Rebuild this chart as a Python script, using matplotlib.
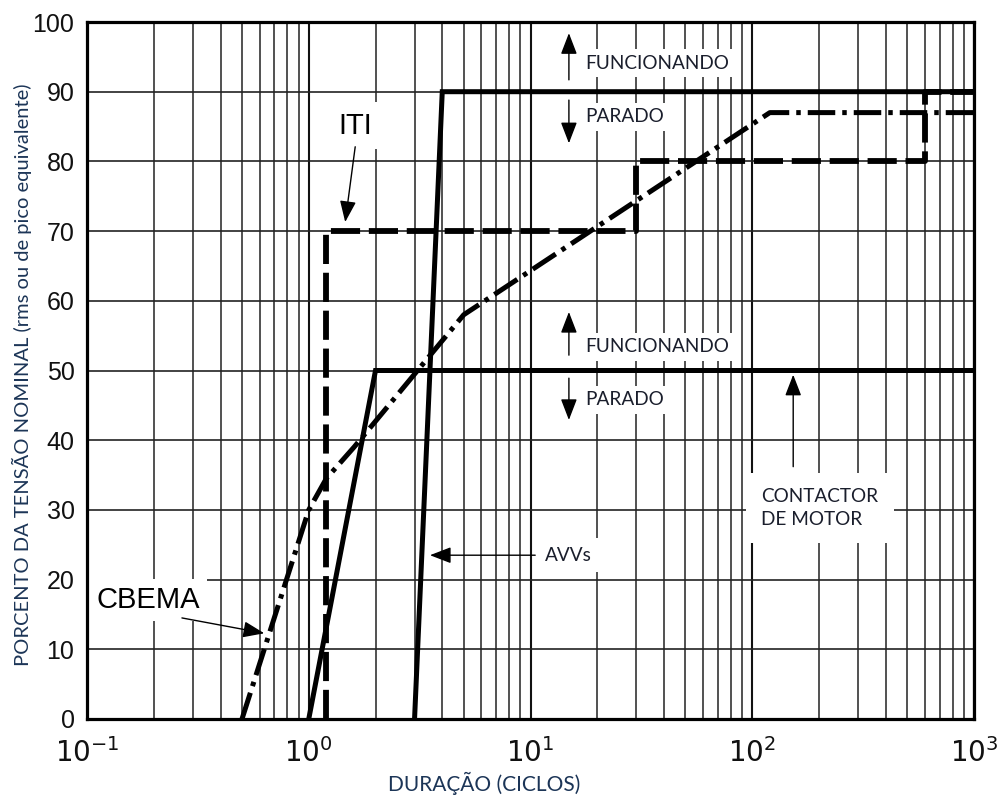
import numpy as np
import matplotlib
matplotlib.use("Agg")
import matplotlib.pyplot as plt
from matplotlib.ticker import LogLocator, FixedLocator, NullFormatter

# curve data (duration in cycles, percent of nominal voltage)
avv_x = [3, 4, 1000]
avv_y = [0, 90, 90]
motor_x = [1, 2, 1000]
motor_y = [0, 50, 50]
iti_x = [1.2, 1.2, 30, 30, 600, 600, 1000]
iti_y = [0, 70, 70, 80, 80, 90, 90]
cbema_x = [0.5, 1.0, 1.2, 1.6, 5, 120, 1000]
cbema_y = [0, 30, 34.5, 39, 58, 87, 87]

y_ticks = list(range(0, 101, 10))
x_ticks = [0.1, 1, 10, 100, 1000]
x_labels = [r"$10^{-1}$", r"$10^{0}$", r"$10^{1}$", r"$10^{2}$", r"$10^{3}$"]

label_col = "#1c3557"
note_col = "#1a1e2c"
note_font = "Lato"
big_font = "Liberation Sans"

fig = plt.figure(figsize=(10.08, 7.98), dpi=100)
ax = fig.add_axes([87 / 1008, 79 / 798, 887 / 1008, 697 / 798])
ax.set_xscale("log")
ax.set_xlim(0.1, 1000)
ax.set_ylim(0, 100)
ax.set_axisbelow(True)

ax.xaxis.set_major_locator(FixedLocator(x_ticks))
ax.xaxis.set_minor_locator(LogLocator(base=10, subs=np.arange(2, 10)))
ax.xaxis.set_minor_formatter(NullFormatter())
ax.set_xticks(x_ticks)
ax.set_xticklabels(x_labels, fontsize=20, family=big_font, color="#111111")
ax.set_yticks(y_ticks)
ax.set_yticklabels([str(v) for v in y_ticks], fontsize=18, family=big_font, color="#111111")
ax.tick_params(which="both", length=0)
ax.tick_params(axis="x", pad=14)
ax.tick_params(axis="y", pad=9)

ax.grid(which="major", axis="x", color="#111111", lw=1.5)
ax.grid(which="minor", axis="x", color="#222222", lw=1.1)
ax.grid(which="major", axis="y", color="#222222", lw=1.2)
for s in ax.spines.values():
    s.set_linewidth(2.3)

lw = 3.6
ax.plot(avv_x, avv_y, color="black", lw=lw, solid_joinstyle="miter", zorder=3)
ax.plot(motor_x, motor_y, color="black", lw=lw, solid_joinstyle="miter", zorder=3)
ax.plot(iti_x, iti_y, color="black", lw=4.2, dashes=(5, 1.5), zorder=3)
ax.plot(cbema_x, cbema_y, color="black", lw=lw, dashes=(5.5, 1.4, 0.9, 1.4), zorder=3)

box = dict(fc="white", ec="none", pad=4)
arr = dict(arrowstyle="-|>,head_length=1.3,head_width=0.5", color="black", lw=1.0,
           shrinkA=0, shrinkB=0)

# big labels
ax.text(1.62, 85.1, "ITI", fontsize=21, family=big_font, ha="center", va="center",
        bbox=dict(fc="white", ec="none", pad=7), zorder=1.5)
ax.annotate("", xy=(1.46, 71.3), xytext=(1.62, 82.1), arrowprops=arr, zorder=3.5)
ax.text(0.188, 17.1, "CBEMA", fontsize=21, family=big_font, ha="center", va="center",
        bbox=dict(fc="white", ec="none", pad=5), zorder=1.5)
ax.annotate("", xy=(0.63, 12.3), xytext=(0.268, 14.5), arrowprops=arr, zorder=3.5)

# region notes
for yf, yp, yu0, yu1, yd0, yd1 in [(94.1, 86.4, 91.7, 98.4, 88.8, 82.6),
                                     (53.4, 45.8, 52.2, 58.4, 48.9, 42.9)]:
    ax.text(17.6, yf, "FUNCIONANDO", fontsize=13.7, family=note_font, color=note_col,
            ha="left", va="center", bbox=box, zorder=1.5)
    ax.text(17.6, yp, "PARADO", fontsize=13.7, family=note_font, color=note_col,
            ha="left", va="center", bbox=box, zorder=1.5)
    ax.annotate("", xy=(14.9, yu1), xytext=(14.9, yu0), arrowprops=arr, zorder=3.5)
    ax.annotate("", xy=(14.9, yd1), xytext=(14.9, yd0), arrowprops=arr, zorder=3.5)

ax.text(110, 30.3, "CONTACTOR\nDE MOTOR", fontsize=13.7, family=note_font, color=note_col,
        ha="left", va="center", linespacing=1.4,
        bbox=dict(fc="white", ec="none", boxstyle="square,pad=0.8"), zorder=1.5)
ax.annotate("", xy=(153, 49.4), xytext=(153, 36.2), arrowprops=arr, zorder=3.5)

ax.text(11.6, 23.5, "AVVs", fontsize=13.7, family=note_font, color=note_col,
        ha="left", va="center", bbox=dict(fc="white", ec="none", pad=6), zorder=1.5)
ax.annotate("", xy=(3.52, 23.5), xytext=(10.5, 23.5), arrowprops=arr, zorder=3.5)

fig.text(22 / 1008, 1 - 375 / 798, "PORCENTO DA TENSÃO NOMINAL (rms ou de pico equivalente)",
         rotation=90, ha="center", va="center", fontsize=14.5, family=note_font,
         color=label_col)
fig.text(484 / 1008, 1 - 783 / 798, "DURAÇÃO (CICLOS)", ha="center", va="center",
         fontsize=15, family=note_font, color=label_col)

fig.savefig("out.png", dpi=100, facecolor="white")
